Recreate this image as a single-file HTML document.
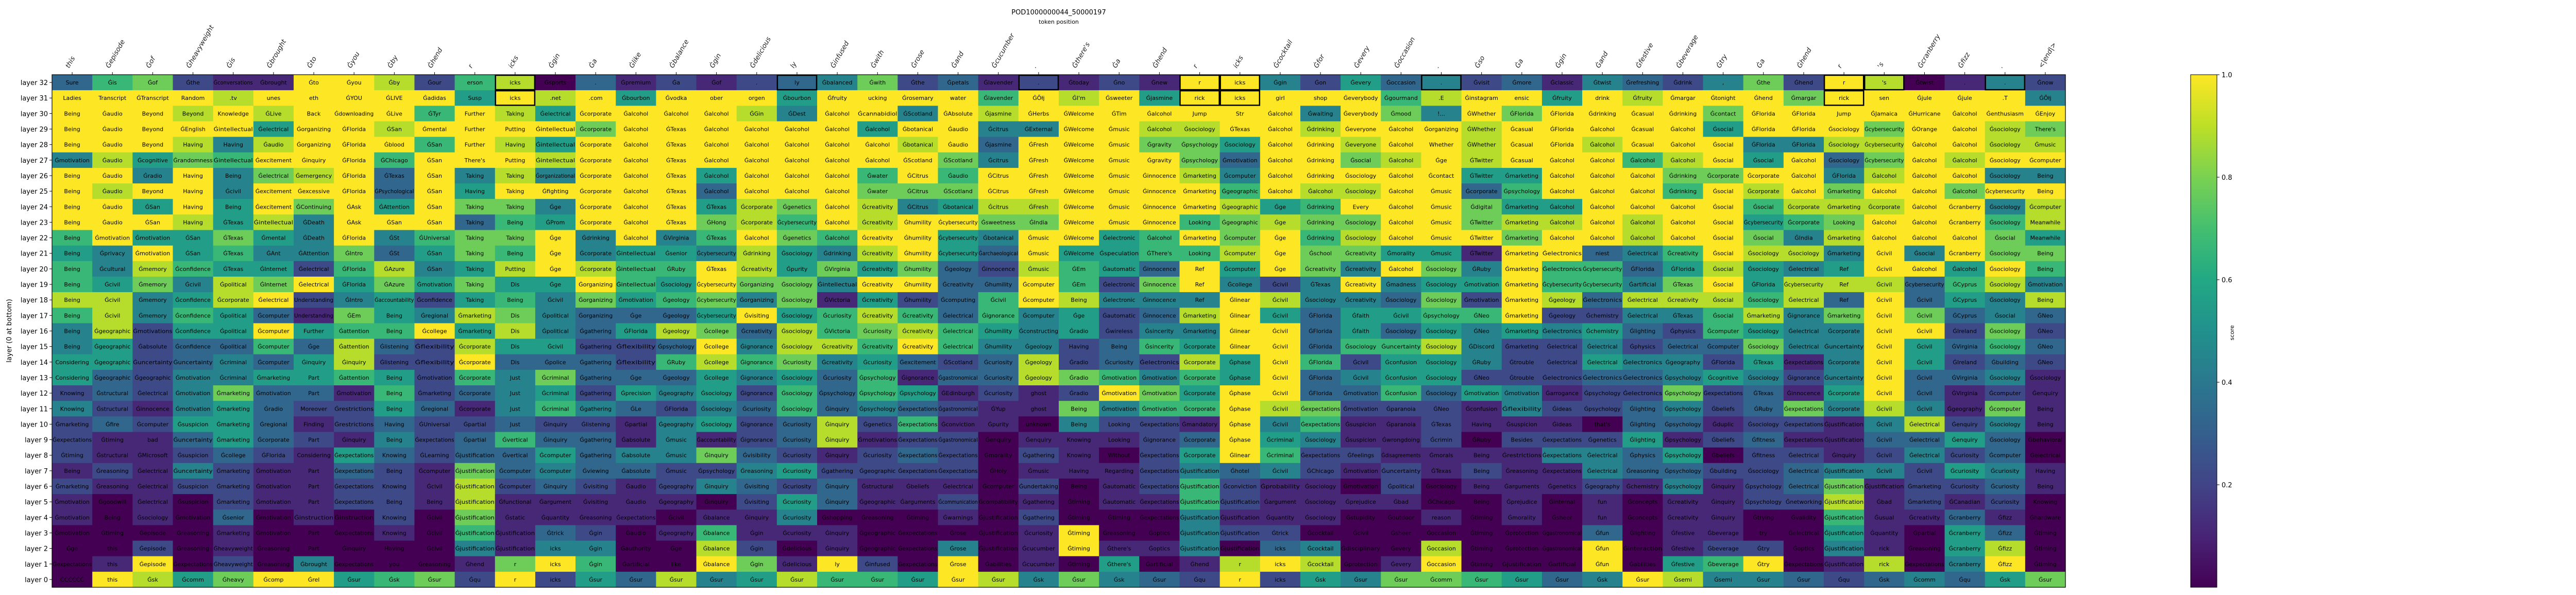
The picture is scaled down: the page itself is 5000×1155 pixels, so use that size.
<!DOCTYPE html>
<html><head><meta charset="utf-8"><style>
html,body{margin:0;padding:0;background:#fff;}
svg{display:block;font-family:"DejaVu Sans","Liberation Sans",sans-serif;}
</style></head><body>
<svg id="chart" width="5000" height="1155" viewBox="0 0 5000 1155" xmlns="http://www.w3.org/2000/svg">
<text x="2055" y="28" text-anchor="middle" font-size="13">POD1000000044_50000197</text>
<text x="2055" y="46" text-anchor="middle" font-size="11">token position</text>
<text x="22" y="642" text-anchor="middle" font-size="13" transform="rotate(-90 22 642)">layer (0 at bottom)</text>
<g id="cells"></g>
<g id="xticks"></g>
<g id="yticks"></g>
<g id="boxes"></g>
<rect x="101" y="145" width="3908" height="995" fill="none" stroke="#000" stroke-width="1.2"/>
<defs><linearGradient id="vir" x1="0" y1="1" x2="0" y2="0">
<stop offset="0" stop-color="#440154"/><stop offset="0.1" stop-color="#482475"/><stop offset="0.2" stop-color="#414487"/><stop offset="0.3" stop-color="#355f8d"/><stop offset="0.4" stop-color="#2a788e"/><stop offset="0.5" stop-color="#21918c"/><stop offset="0.6" stop-color="#22a884"/><stop offset="0.7" stop-color="#44bf70"/><stop offset="0.8" stop-color="#7ad151"/><stop offset="0.9" stop-color="#bddf26"/><stop offset="1" stop-color="#fde725"/></linearGradient></defs>
<rect x="4252" y="145" width="51" height="995" fill="url(#vir)" stroke="#000" stroke-width="1"/>
<g id="cbticks"></g>
<text x="4336" y="646" text-anchor="middle" font-size="11" transform="rotate(-90 4336 646)">score</text>
</svg>
<script>
const colLabels = ["this","Ġepisode","Ġof","Ġheavyweight","Ġis","Ġbrought","Ġto","Ġyou","Ġby","Ġhend","r","icks","Ġgin","Ġa","Ġlike","Ġbalance","Ġgin","Ġdelicious","ly","Ġinfused","Ġwith","Ġrose","Ġand","Ġcucumber",".","Ġthere's","Ġa","Ġhend","r","icks","Ġcocktail","Ġfor","Ġevery","Ġoccasion",".","Ġso","Ġa","Ġgin","Ġand","Ġfestive","Ġbeverage","Ġtry","Ġa","Ġhend","r","'s","Ġcranberry","Ġfizz",".","<|end|>"];
const layerLabels = ["layer 32","layer 31","layer 30","layer 29","layer 28","layer 27","layer 26","layer 25","layer 24","layer 23","layer 22","layer 21","layer 20","layer 19","layer 18","layer 17","layer 16","layer 15","layer 14","layer 13","layer 12","layer 11","layer 10","layer 9","layer 8","layer 7","layer 6","layer 5","layer 4","layer 3","layer 2","layer 1","layer 0"];
const scoreRows = [
"367211998268031 21234723121219 94253423143247 2980142",
"999989999959895 99959999698959 99996899598999 7999994",
"999898999698599 99849949899999 99497497999979 9999999",
"999995998999979 99999599449988 99899989999959 9979987",
"999848999698599 99999989399977 59989989989994 4889988",
"485769996999899 99999997499997 39978989996895 9379899",
"994947893948499 95999696999998 49999955999779 9489944",
"989949993959999 93999777999999 69889936999698 9799799",
"995959795977499 95879845889999 85699975599996 8889948",
"999858499936599 97869899779996 78779978898995 6799968",
"695575494677949 46976995499569 79689997998997 4899975",
"549564473576945 54854895395566 89775519934698 8494977",
"648655268458986 69857573286539 59749749663585 4599596",
"657487957575596 59774993396279 42494559664795 8883684",
"884589245256475 67471523698444 98443729838886 8393548",
"684653175487433 35956863645238 95355669224468 4797343",
"482559566958435 87386786545244 99353545453265 4499272",
"452336383285522 39488696442365 99366842242337 4495363",
"552343582293332 68674532382328 59625542254425 1495232",
"532445565264733 35453613387646 59345522233454 2493341",
"232473316234525 45263651212975 99336354122723 1593121",
"421453225314643 24363432117466 98722214223423 7484171",
"232553123223221 45238261104221 94611211103312 2148241",
"211353214236331 41238122011123 95411202225123 1133530",
"211232153233534 47321232021025 96221111443502 2124230",
"121421132173433 22452222011124 34212121143322 3442541",
"211221122182321 24323111020126 21102011121412 3712231",
"101021122181111 10253112010116 21111001010112 2812120",
"101030102071111 01140001020004 11100101010110 0611310",
"000010001061320 16111000019004 22000000030110 0510530",
"002010000041440 08201004019114 03400800090122 0410580",
"019020400017960 09719209010501 89801900090569 0180490",
"098579956729253 84586659847432 92547765349844 3234357"
];
const cellTexts = [
"Sure Ġis Ġof Ġthe Ġconversations Ġbrought Ġto Ġyou Ġby Ġour erson icks Ġsports . Ġpremium Ġa Ġof . ly Ġbalanced Ġwith Ġthe Ġpetals Ġlavender . Ġtoday Ġno Ġnew r icks Ġgin Ġon Ġevery Ġoccasion . Ġvisit Ġmore Ġclassic Ġtwist Ġrefreshing Ġdrink , Ġthe Ġhend r 's Ġtwist . . Ġnow",
"Ladies Transcript ĠTranscript Random .tv unes eth ĠYOU ĠLIVE Ġadidas Susp icks .net .com Ġbourbon Ġvodka ober orgen Ġbourbon Ġfruity ucking Ġrosemary water Ġlavender ĠÕłj ĠI'm Ġsweeter Ġjasmine rick icks girl shop Ġeverybody Ġgourmand .E Ġinstagram ensic Ġfruity drink Ġfruity Ġmargar Ġtonight Ġhend Ġmargar rick sen Ġjule Ġjule .T ĠÕłj",
"Being Ġaudio Beyond Beyond Knowledge ĠLive Back Ġdownloading ĠLive ĠTyr Further Taking Ġelectrical Ġcorporate Ġalcohol Ġalcohol Ġalcohol ĠGin ĠDest Ġalcohol Ġcannabidiol ĠScotland ĠAbsolute Ġjasmine ĠHerbs ĠWelcome ĠTim Ġalcohol Jump Str Ġalcohol Ġwaiting Ġeverybody Ġmood !... ĠWhether ĠFlorida ĠFlorida Ġdrinking Ġcasual Ġdrinking Ġcontact ĠFlorida ĠFlorida Jump ĠJamaica ĠHurricane Ġalcohol Ġenthusiasm ĠEnjoy",
"Being Ġaudio Beyond ĠEnglish Ġintellectual Ġelectrical Ġorganizing ĠFlorida ĠSan Ġmental Further Putting Ġintellectual Ġcorporate Ġalcohol ĠTexas Ġalcohol Ġalcohol Ġalcohol Ġalcohol Ġalcohol Ġbotanical Ġaudio Ġcitrus ĠExternal ĠWelcome Ġmusic Ġalcohol Ġsociology ĠTexas Ġalcohol Ġdrinking Ġeveryone Ġalcohol Ġorganizing ĠWhether Ġcasual ĠFlorida Ġalcohol Ġcasual Ġalcohol Ġsocial ĠFlorida ĠFlorida Ġsociology Ġcybersecurity ĠOrange Ġalcohol Ġsociology There's",
"Being Ġaudio Beyond Having Having Ġaudio Ġorganizing ĠFlorida Ġblood ĠSan Further Having Ġintellectual Ġcorporate Ġalcohol ĠTexas Ġalcohol Ġalcohol Ġalcohol Ġalcohol Ġalcohol Ġbotanical Ġaudio Ġjasmine ĠFresh ĠWelcome Ġmusic Ġgravity Ġpsychology Ġsociology Ġalcohol Ġdrinking Ġeveryone Ġalcohol Whether ĠWhether Ġcasual ĠFlorida Ġalcohol Ġcasual Ġalcohol Ġsocial ĠFlorida ĠFlorida Ġsociology Ġcybersecurity Ġalcohol Ġalcohol Ġsociology Ġmusic",
"Ġmotivation Ġaudio Ġcognitive Ġrandomness Ġintellectual Ġexcitement Ġinquiry ĠFlorida ĠChicago ĠSan There's Putting Ġintellectual Ġcorporate Ġalcohol ĠTexas Ġalcohol Ġalcohol Ġalcohol Ġalcohol Ġalcohol ĠScotland ĠScotland Ġcitrus ĠFresh ĠWelcome Ġmusic Ġgravity Ġpsychology Ġmotivation Ġalcohol Ġdrinking Ġsocial Ġalcohol Ġge ĠTwitter Ġcasual Ġalcohol Ġalcohol Ġalcohol Ġalcohol Ġsocial Ġsocial Ġalcohol Ġsociology Ġcybersecurity Ġalcohol Ġalcohol Ġsociology Ġcomputer",
"Being Ġaudio Ġradio Having Being Ġelectrical Ġemergency ĠFlorida ĠTexas ĠSan Taking Taking Ġorganizational Ġcorporate Ġalcohol ĠTexas Ġalcohol Ġalcohol Ġalcohol Ġalcohol Ġwater ĠCitrus Ġaudio ĠCitrus ĠFresh ĠWelcome Ġmusic Ġinnocence Ġmarketing Ġcomputer Ġalcohol Ġdrinking Ġsociology Ġalcohol Ġcontact ĠTwitter Ġmarketing Ġalcohol Ġalcohol Ġalcohol Ġdrinking Ġcorporate Ġcorporate Ġalcohol ĠFlorida Ġalcohol Ġalcohol Ġalcohol Ġsociology Being",
"Being Ġaudio Beyond Having Ġcivil Ġexcitement Ġexcessive ĠFlorida ĠPsychological ĠSan Having Taking Ġfighting Ġcorporate Ġalcohol ĠTexas Ġalcohol Ġalcohol Ġalcohol Ġalcohol Ġwater ĠCitrus ĠScotland ĠCitrus ĠFresh ĠWelcome Ġmusic Ġinnocence Ġmarketing Ġgeographic Ġalcohol Ġalcohol Ġsociology Ġalcohol Ġmusic Ġcorporate Ġpsychology Ġalcohol Ġalcohol Ġalcohol Ġdrinking Ġsocial Ġcorporate Ġalcohol Ġmarketing Ġalcohol Ġalcohol Ġalcohol Ġcybersecurity Being",
"Being Ġaudio ĠSan Having Being Ġexcitement ĠContinuing ĠAsk ĠAttention ĠSan Taking Taking Ġge Ġcorporate Ġalcohol ĠTexas ĠTexas Ġcorporate Ġgenetics Ġalcohol Ġcreativity ĠCitrus Ġbotanical Ġcitrus ĠFresh ĠWelcome Ġmusic Ġinnocence Ġmarketing Ġgeographic Ġge Ġdrinking Every Ġalcohol Ġmusic Ġdigital Ġmarketing Ġalcohol Ġalcohol Ġalcohol Ġalcohol Ġsocial Ġsocial Ġcorporate Ġmarketing Ġcorporate Ġalcohol Ġcranberry Ġsociology Ġcomputer",
"Being Ġaudio ĠSan Having ĠTexas Ġintellectual ĠDeath ĠAsk ĠSan ĠSan Taking Being ĠProm Ġcorporate Ġalcohol ĠTexas ĠHong Ġcorporate Ġcybersecurity Ġalcohol Ġcreativity Ġhumility Ġcybersecurity Ġsweetness ĠIndia ĠWelcome Ġmusic Ġinnocence Looking Ġgeographic Ġge Ġdrinking Ġsociology Ġalcohol Ġmusic ĠTwitter Ġmarketing Ġalcohol Ġalcohol Ġalcohol Ġalcohol Ġsocial Ġcybersecurity Ġcorporate Looking Ġalcohol Ġalcohol Ġcranberry Ġsociology Meanwhile",
"Being Ġmotivation Ġmotivation ĠSan ĠTexas Ġmental ĠDeath ĠFlorida ĠSt ĠUniversal Taking Taking Ġge Ġdrinking Ġalcohol ĠVirginia ĠTexas Ġalcohol Ġgenetics Ġalcohol Ġcreativity Ġhumility Ġcybersecurity Ġbotanical Ġmusic ĠWelcome Ġelectronic Ġalcohol Ġmarketing Ġcomputer Ġge Ġdrinking Ġsociology Ġalcohol Ġmusic ĠTwitter Ġmarketing Ġalcohol Ġalcohol Ġalcohol Ġalcohol Ġsocial Ġsocial ĠIndia Ġmarketing Ġalcohol Ġalcohol Ġalcohol Ġsocial Meanwhile",
"Being Ġprivacy Ġmotivation ĠSan ĠTexas ĠAnt ĠAttention ĠIntro ĠSt ĠSan Taking Being Ġge Ġcorporate Ġintellectual Ġsenior Ġcybersecurity Ġdrinking Ġsociology Ġdrinking Ġcreativity Ġhumility Ġcybersecurity Ġarchaeological Ġmusic ĠWelcome Ġspeculation ĠThere's Looking Ġcomputer Ġge Ġschool Ġcreativity Ġmorality Ġmusic ĠTwitter Ġmarketing Ġelectronics niest Ġelectrical Ġcreativity Ġsocial Ġsociology Ġsociology Ġmarketing Ġcivil Ġsocial Ġcranberry Ġsociology Being",
"Being Ġcultural Ġmemory Ġconfidence ĠTexas ĠInternet Ġelectrical ĠFlorida ĠAzure ĠSan Taking Putting Ġge Ġcorporate Ġintellectual ĠRuby ĠTexas Ġcreativity Ġpurity ĠVirginia Ġcreativity Ġhumility Ġgeology Ġinnocence Ġmusic ĠEm Ġautomatic Ġinnocence Ref Ġcomputer Ġge Ġcreativity Ġcreativity Ġalcohol Ġsociology ĠRuby Ġmarketing Ġelectronics Ġcybersecurity ĠFlorida ĠFlorida Ġsocial Ġsociology Ġelectrical Ref Ġcivil Ġalcohol Ġalcohol Ġsociology Being",
"Being Ġcivil Ġmemory Ġcivil Ġpolitical ĠInternet Ġelectrical ĠFlorida ĠAzure Ġmotivation Taking Dis Ġge Ġorganizing Ġintellectual Ġsociology Ġcybersecurity Ġorganizing Ġsociology Ġintellectual Ġcreativity Ġhumility Ġcreativity Ġhumility Ġcomputer ĠEm Ġelectronic Ġinnocence Ref Ġcollege Ġcivil ĠTexas Ġcreativity Ġmadness Ġsociology Ġmotivation Ġmarketing Ġcybersecurity Ġcybersecurity Ġartificial ĠTexas Ġsocial ĠFlorida Ġcybersecurity Ref Ġcivil Ġcybersecurity ĠCyprus Ġsociology Ġmotivation",
"Being Ġcivil Ġmemory Ġconfidence Ġcorporate Ġelectrical Understanding ĠIntro Ġaccountability Ġconfidence Taking Being Ġcivil Ġorganizing Ġmotivation Ġgeology Ġcybersecurity Ġorganizing Ġsociology ĠVictoria Ġcreativity Ġhumility Ġcomputing Ġcivil Ġcomputer Being Ġelectronic Ġinnocence Ref Ġlinear Ġcivil Ġsociology Ġcreativity Ġsociology Ġsociology Ġmotivation Ġmarketing Ġgeology Ġelectronics Ġelectrical Ġcreativity Ġsocial Ġsociology Ġelectrical Ref Ġcivil Ġcivil ĠCyprus Ġsociology Being",
"Being Ġcivil Ġmemory Ġconfidence Ġpolitical Ġcomputer Understanding ĠEm Being Ġregional Ġmarketing Dis Ġpolitical Ġorganizing Ġge Ġgeology Ġcybersecurity Ġvisiting Ġsociology Ġcuriosity Ġcreativity Ġcreativity Ġelectrical Ġignorance Ġcomputer Ġge Ġautomatic Ġinnocence Ġmarketing Ġlinear Ġcivil ĠFlorida Ġfaith Ġcivil Ġpsychology ĠNeo Ġmarketing Ġgeology Ġchemistry Ġelectrical ĠTexas Ġsocial Ġmarketing Ġignorance Ġmarketing Ġcivil Ġcivil ĠCyprus Ġsocial ĠNeo",
"Being Ġgeographic Ġmotivations Ġconfidence Ġpolitical Ġcomputer Further Ġattention Being Ġcollege Ġmarketing Dis Ġpolitical Ġgathering ĠFlorida Ġgeology Ġcollege Ġcreativity Ġsociology ĠVictoria Ġcuriosity Ġcreativity Ġelectrical Ġhumility Ġconstructing Ġradio Ġwireless Ġsincerity Ġmarketing Ġlinear Ġcivil ĠFlorida Ġfaith Ġsociology Ġsociology ĠNeo Ġmarketing Ġelectronics Ġchemistry Ġlighting Ġphysics Ġcomputer Ġsociology Ġelectrical Ġcorporate Ġcivil Ġcivil ĠIreland Ġsociology ĠNeo",
"Being Ġgeographic Ġabsolute Ġconfidence Ġpolitical Ġcomputer Ġge Ġattention Ġlistening Ġflexibility Ġcorporate Dis Ġcivil Ġgathering Ġflexibility Ġpsychology Ġcollege Ġignorance Ġsociology Ġcreativity Ġcreativity Ġcreativity Ġelectrical Ġhumility Ġgeology Having Being Ġsincerity Ġcorporate Ġlinear Ġcivil ĠFlorida Ġsociology Ġuncertainty Ġsociology ĠDiscord Ġmarketing Ġelectrical Ġelectrical Ġphysics Ġelectrical Ġcomputer Ġsociology Ġelectrical Ġuncertainty Ġcivil Ġcivil ĠVirginia Ġsociology ĠNeo",
"Considering Ġgeographic Ġuncertainty Ġuncertainty Ġcriminal Ġcomputer Ġinquiry Ġinquiry Ġlistening Ġflexibility Ġcorporate Dis Ġpolice Ġgathering Ġflexibility ĠRuby Ġcollege Ġignorance Ġcuriosity Ġcreativity Ġcuriosity Ġexcitement ĠScotland Ġcuriosity Ġgeology Ġradio Ġcuriosity Ġelectronics Ġcorporate Ġphase Ġcivil ĠFlorida Ġcivil Ġconfusion Ġsociology ĠRuby Ġtrouble Ġelectrical Ġelectrical Ġelectronics Ġgeography ĠFlorida ĠTexas Ġexpectations Ġcorporate Ġcivil Ġcivil ĠIreland Ġbuilding ĠNeo",
"Considering Ġgeographic Ġgeographic Ġmotivation Ġcriminal Ġmarketing Part Ġattention Being Ġmotivation Ġcorporate Just Ġcriminal Ġgathering Ġge Ġgeology Ġcollege Ġignorance Ġsociology Ġcuriosity Ġpsychology Ġignorance Ġgastronomical Ġcuriosity Ġgeology Ġradio Ġmotivation Ġmotivation Ġcorporate Ġphase Ġcivil ĠFlorida Ġcivil Ġconfusion Ġsociology ĠNeo Ġtrouble Ġelectronics Ġelectronics Ġelectronics Ġpsychology Ġcognitive Ġsociology Ġignorance Ġuncertainty Ġcivil Ġcivil ĠVirginia Ġsociology Ġsociology",
"Knowing Ġstructural Ġelectrical Ġmotivation Ġmarketing Ġmotivation Part Ġmotivation Being Ġmarketing Ġcorporate Just Ġcriminal Ġgathering Ġprecision Ġgeography Ġsociology Ġignorance Ġsociology Ġpsychology Ġpsychology Ġpsychology ĠEdinburgh Ġcuriosity ghost Ġradio Ġmotivation Ġmotivation Ġcorporate Ġphase Ġcivil ĠFlorida Ġmotivation Ġconfusion Ġsociology Ġmotivation Ġmotivation Ġarrogance Ġpsychology Ġelectronics Ġpsychology Ġexpectations ĠTexas Ġinnocence Ġcorporate Ġcivil Ġcivil ĠVirginia Ġcomputer Ġenquiry",
"Knowing Ġstructural Ġinnocence Ġmotivation Ġmarketing Ġradio Moreover Ġrestrictions Being Ġregional Ġcorporate Just Ġcriminal Ġgathering ĠLe ĠFlorida Ġsociology Ġcuriosity Ġsociology Ġinquiry Ġpsychology Ġexpectations Ġgastronomical ĠYup ghost Being Ġmotivation Ġmotivation Ġcorporate Ġphase Ġcivil Ġexpectations Ġmotivation Ġparanoia ĠNeo Ġconfusion Ġflexibility Ġideas Ġpsychology Ġlighting Ġpsychology Ġbeliefs ĠRuby Ġexpectations Ġcorporate Ġcivil Ġcivil Ġgeography Ġcomputer Being",
"Ġmarketing Ġfire Ġcomputer Ġsuspicion Ġmarketing Ġregional Finding Ġrestrictions Having ĠUniversal Ġpartial Just Ġinquiry Ġlistening Ġpartial Ġgeography Ġsociology Ġignorance Ġcuriosity Ġinquiry Ġgenetics Ġexpectations Ġconviction Ġpurity unknown Being Looking Ġexpectations Ġmandatory Ġphase Ġcivil Ġexpectations Ġsuspicion Ġparanoia ĠTexas Having Ġsuspicion Ġideas that's Ġlighting Ġpsychology Ġduplic Ġsociology Ġexpectations Ġjustification Ġcivil Ġelectrical Ġenquiry Ġsociology Being",
"Ġexpectations Ġtiming bad Ġuncertainty Ġmarketing Ġcorporate Part Ġinquiry Being Ġexpectations Ġpartial Ġvertical Ġinquiry Ġgathering Ġabsolute Ġmusic Ġaccountability Ġignorance Ġcuriosity Ġinquiry Ġmotivations Ġexpectations Ġgastronomical Ġenquiry Ġenquiry Knowing Looking Ġignorance Ġcorporate Ġphase Ġcriminal Ġsociology Ġsuspicion Ġwrongdoing Ġcrimin ĠRuby Besides Ġexpectations Ġgenetics Ġlighting Ġpsychology Ġbeliefs Ġfitness Ġexpectations Ġjustification Ġcivil Ġelectrical Ġenquiry Ġsociology Ġbehavioral",
"Ġtiming Ġstructural ĠMicrosoft Ġsuspicion Ġcollege ĠFlorida Considering Ġexpectations Knowing ĠLearning Ġjustification Ġvertical Ġcomputer Ġgathering Ġabsolute Ġmusic Ġinquiry Ġvisibility Ġcuriosity Ġinquiry Ġcuriosity Ġexpectations Ġexpectations Ġmorality Ġgathering Knowing Without Ġexpectations Ġcorporate Ġlinear Ġcriminal Ġexpectations Ġfeelings Ġdisagreements Ġmorals Being Ġrestrictions Ġexpectations Ġelectrical Ġphysics Ġpsychology Ġbeliefs Ġfitness Ġelectrical Ġinquiry Ġcivil Ġelectrical Ġcuriosity Ġcomputer Ġelectrical",
"Being Ġreasoning Ġelectrical Ġuncertainty Ġmarketing Ġmotivation Part Ġexpectations Being Ġcomputer Ġjustification Ġcomputer Ġcomputer Ġviewing Ġabsolute Ġmusic Ġpsychology Ġreasoning Ġcuriosity Ġgathering Ġgeographic Ġexpectations Ġexpectations ĠHoly Ġmusic Having Regarding Ġexpectations Ġjustification Ġhotel Ġcivil ĠChicago Ġmotivation Ġuncertainty ĠTexas Being Ġreasoning Ġexpectations Ġelectrical Ġreasoning Ġpsychology Ġbuilding Ġsociology Ġelectrical Ġjustification Ġcivil Ġcivil Ġcuriosity Ġcuriosity Having",
"Ġmarketing Ġreasoning Ġelectrical Ġsuspicion Ġmarketing Ġmotivation Part Ġexpectations Knowing Ġcivil Ġjustification Ġcomputer Ġinquiry Ġvisiting Ġaudio Ġgeography Ġinquiry Ġvisiting Ġcuriosity Ġinquiry Ġstructural Ġbeliefs Ġelectrical Ġcomputer Ġundertaking Being Ġautomatic Ġexpectations Ġjustification Ġconviction Ġprobability Ġsociology Ġmotivation Ġpolitical Ġsociology Being Ġarguments Ġgenetics Ġgeography Ġchemistry Ġpsychology Ġinquiry Ġpsychology Ġelectrical Ġjustification Ġjustification Ġmarketing Ġcuriosity Ġcuriosity Being",
"Ġmotivation Ġgoodwill Ġelectrical Ġsuspicion Ġmarketing Ġmotivation Part Ġexpectations Being Being Ġjustification Ġfunctional Ġargument Ġvisiting Ġaudio Ġgeography Ġinquiry Ġvisiting Ġcuriosity Ġinquiry Ġgeographic Ġarguments Ġcommunication Ġcompatibility Ġgathering Ġtiming Ġautomatic Ġexpectations Ġjustification Ġjustification Ġargument Ġsociology Ġprejudice Ġbad ĠChicago Being Ġprejudice Ġinternal fun Ġconcepts Ġcreativity Ġinquiry Ġpsychology Ġnetworking Ġjustification Ġbad Ġmarketing ĠCanadian Ġcuriosity Knowing",
"Ġmotivation Being Ġsociology Ġmotivation Ġsenior Ġmotivation Ġinstruction Ġinstruction Knowing Ġcivil Ġjustification Ġstatic Ġquantity Ġreasoning Ġexpectations Ġcivil Ġbalance Ġinquiry Ġcuriosity Ġshopping Ġreasoning Ġtiming Ġwarnings Ġjustification Ġgathering Ġtiming Ġtiming Ġexpectations Ġjustification Ġjustification Ġquantity Ġsociology Ġstupidity Ġoutdoor reason Ġtiming Ġmorality Ġsheer fun Ġconcepts Ġcreativity Ġinquiry Ġtrying Ġvalidity Ġjustification Ġusual Ġcreativity Ġcranberry Ġfizz Ġhardware",
"Ġmotivation Ġtiming Ġepisode Ġreasoning Ġmarketing Ġmotivation Part Ġexpectations Knowing Ġcivil Ġjustification Ġjustification Ġtrick Ġgin Ġaudio Ġgeography Ġbalance Ġgin Ġcuriosity Ġinquiry Ġgeographic Ġexpectations Ġrose Ġjustification Ġcuriosity Ġtiming Ġreasoning Ġoptics Ġjustification Ġjustification Ġtrick Ġcocktail Ġcivil Ġsheer Ġoccasion Ġtiming Ġprotection Ġgastronomical Ġfun Ġlighting Ġfestive Ġbeverage try Ġelectrical Ġjustification Ġquantity Ġpartial Ġcranberry Ġfizz Ġtiming",
"Ġge this Ġepisode Ġreasoning Ġheavyweight Ġreasoning Part Ġinquiry Having Ġcivil Ġjustification Ġjustification icks Ġgin Ġauthority Ġge Ġbalance Ġgin Ġdelicious Ġinquiry Ġgeographic Ġexpectations Ġrose Ġjustification Ġcucumber Ġtiming Ġthere's Ġoptics Ġjustification Ġjustification icks Ġcocktail Ġdisciplinary Ġevery Ġoccasion Ġtiming Ġprotection Ġgastronomical Ġfun Ġinteraction Ġfestive Ġbeverage Ġtry Ġoptics Ġjustification rick Ġreasoning Ġcranberry Ġfizz Ġtiming",
"Ġexpectations this Ġepisode Ġexpectations Ġheavyweight Ġreasoning Ġbrought Ġexpectations you Ġreasoning Ġhend r icks Ġgin Ġartificial like Ġbalance Ġgin Ġdelicious ly Ġinfused Ġexpectations Ġrose Ġabilities Ġcucumber Ġtiming Ġthere's Ġartificial Ġhend r icks Ġcocktail Ġprotection Ġevery Ġoccasion Ġtiming Ġjustification Ġartificial Ġfun Ġabilities Ġfestive Ġbeverage Ġtry Ġexpectations Ġjustification rick Ġexpectations Ġcranberry Ġfizz Ġtiming",
"ĊĊĊĊĊĊ this Ġsk Ġcomm Ġheavy Ġcomp Ġrel Ġsur Ġsk Ġsur Ġqu r icks Ġsur Ġsur Ġsur Ġsur Ġsur Ġsur Ġsur Ġsur Ġsur Ġsur Ġsur Ġsk Ġsur Ġsk Ġsur Ġqu r icks Ġsk Ġsur Ġsur Ġcomm Ġsur Ġsur Ġsur Ġsk Ġsur Ġsemi Ġsemi Ġsur Ġsur Ġqu Ġsk Ġcomm Ġqu Ġsk Ġsur"
];
const boxedTop = [11,18,24,28,29,34,44,45,48];
const boxedSecond = [11,28,29,44];
const cbTicks = [0.2,0.4,0.6,0.8,1.0];

const NS = "http://www.w3.org/2000/svg";
const X0 = 101, X1 = 4009, Y0 = 145, Y1 = 1140;
const nCols = colLabels.length, nRows = layerLabels.length;
const cw = (X1 - X0) / nCols, rh = (Y1 - Y0) / nRows;
function xPos(c){ return X0 + c * cw; }
function yPos(r){ return Y0 + r * rh; }
const vstops = [[68,1,84],[72,36,117],[65,68,135],[53,95,141],[42,120,142],[33,145,140],[34,168,132],[68,191,112],[122,209,81],[189,223,38],[253,231,37]];
function viridis(v){
  v = Math.max(0, Math.min(1, v));
  const p = v * 10, i = Math.min(9, Math.floor(p)), t = p - i;
  const a = vstops[i], b = vstops[i+1];
  return "rgb(" + [0,1,2].map(k => Math.round(a[k] + (b[k]-a[k]) * t)).join(",") + ")";
}
function mk(tag, attrs, parent){
  const el = document.createElementNS(NS, tag);
  for (const k in attrs) el.setAttribute(k, attrs[k]);
  parent.appendChild(el);
  return el;
}
const gCells = document.getElementById("cells");
for (let r = 0; r < nRows; r++){
  const digits = scoreRows[r].replace(/ /g, "");
  const words = cellTexts[r].split(" ");
  for (let c = 0; c < nCols; c++){
    const v = parseInt(digits[c], 10) / 9;
    const rect = mk("rect", {x: xPos(c), y: yPos(r), width: cw + 0.6, height: rh + 0.6, fill: viridis(v)}, gCells);
    
    
    const t = mk("text", {x: xPos(c) + cw/2, y: yPos(r) + rh/2 + 4, "text-anchor": "middle", "font-size": "11", fill: "#000"}, gCells);
    
    
    t.textContent = words[c] || "";
    const tw = words[c] ? words[c].length * 6.6 : 0;
    if (tw > cw - 2) t.setAttribute("textLength", cw - 2), t.setAttribute("lengthAdjust", "spacingAndGlyphs");
  }
}
const gX = document.getElementById("xticks");
for (let c = 0; c < nCols; c++){
  const cx = xPos(c) + cw/2;
  const tk = mk("line", {x1: cx, y1: Y0, x2: cx, y2: Y0 - 5, stroke: "#000", "stroke-width": 1}, gX);
  
  
  const t = mk("text", {x: cx - 6, y: Y0 - 12, "font-size": "13", "font-style": "italic", fill: "#222", transform: "rotate(-60 " + (cx - 6) + " " + (Y0 - 12) + ")"}, gX);
  
  
  t.textContent = colLabels[c];
}
const gY = document.getElementById("yticks");
for (let r = 0; r < nRows; r++){
  const cy = yPos(r) + rh/2;
  const tk = mk("line", {x1: X0, y1: cy, x2: X0 - 5, y2: cy, stroke: "#000", "stroke-width": 1}, gY);
  
  
  const t = mk("text", {x: X0 - 8, y: cy + 5, "text-anchor": "end", "font-size": "13", fill: "#000"}, gY);
  
  
  t.textContent = layerLabels[r];
}
const gB = document.getElementById("boxes");
function box(r, c){
  const b = mk("rect", {x: xPos(c) + 1, y: yPos(r) + 1, width: cw - 2, height: rh - 2, fill: "none", stroke: "#000", "stroke-width": 2.5}, gB);
  
  
}
boxedTop.forEach(c => box(0, c));
boxedSecond.forEach(c => box(1, c));
const gC = document.getElementById("cbticks");
for (const v of cbTicks){
  const y = Y1 - v * (Y1 - Y0);
  const tk = mk("line", {x1: 4303, y1: y, x2: 4308, y2: y, stroke: "#000", "stroke-width": 1}, gC);
  
  
  const t = mk("text", {x: 4312, y: y + 5, "font-size": "13", fill: "#000"}, gC);
  
  
  t.textContent = v.toFixed(1);
}
</script>
</body></html>
